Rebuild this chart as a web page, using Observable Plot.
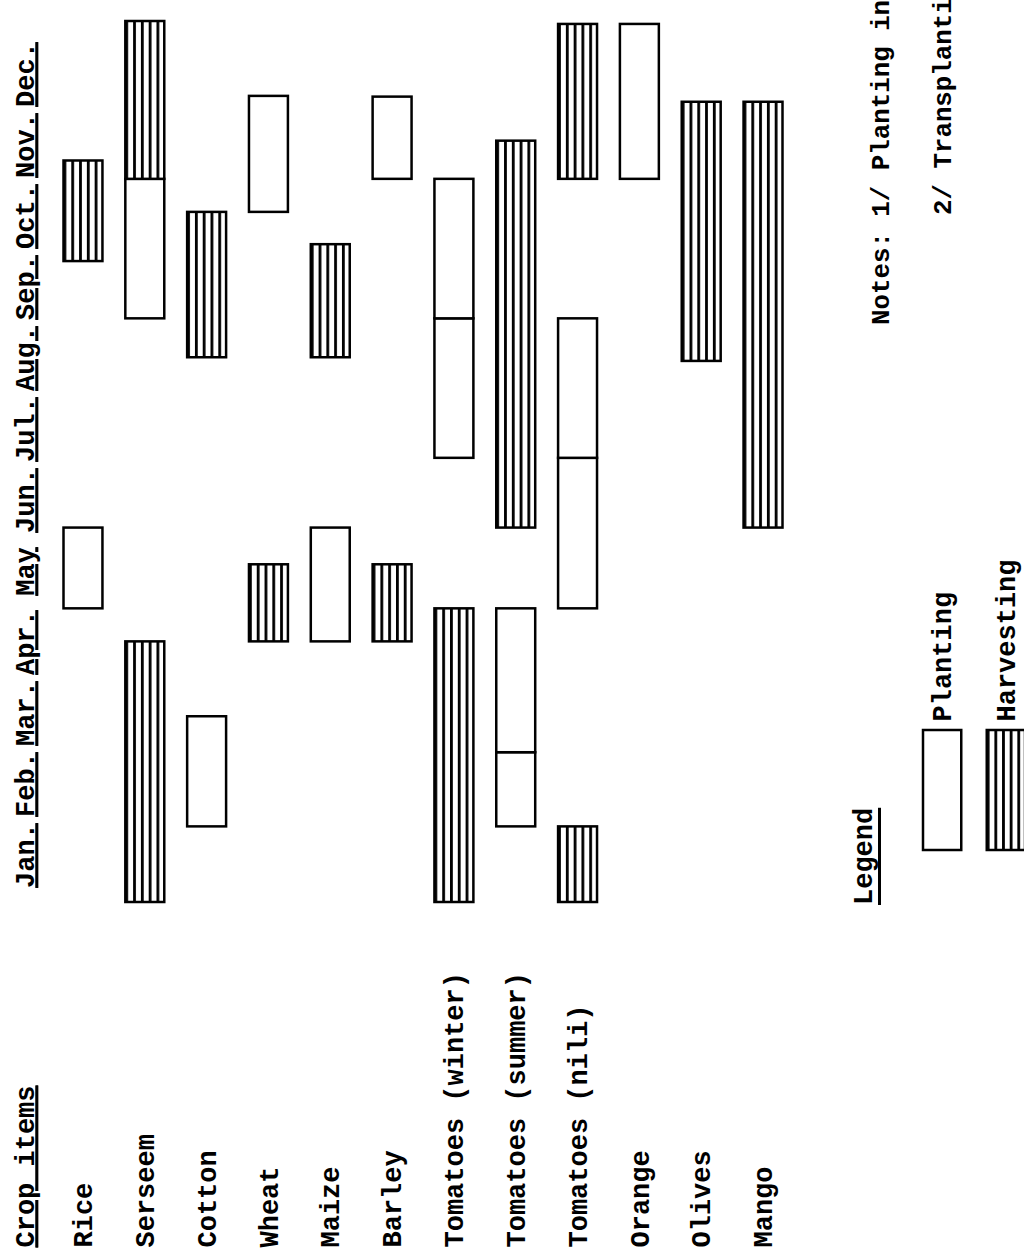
<!DOCTYPE html>
<html><head><meta charset="utf-8">
<script src="https://cdn.jsdelivr.net/npm/d3@7"></script>
<script src="https://cdn.jsdelivr.net/npm/@observablehq/plot@0.6"></script>
<style>
html,body{margin:0;padding:0;background:#fff;overflow:hidden;}
#page{position:relative;width:1024px;height:1251px;overflow:hidden;background:#fff;}
#rot{position:absolute;left:0;top:0;width:1251px;height:1024px;transform-origin:0 0;transform:translate(0,1251px) rotate(-90deg);}
#rot svg{position:absolute;left:0;top:0;background:transparent;}
#rot svg text{font-weight:bold;}
.note{position:absolute;white-space:nowrap;font-family:'Liberation Mono',monospace;font-weight:bold;font-size:27px;line-height:30px;color:#000;}
.ul text, .ul{text-decoration:underline;text-decoration-thickness:2.5px;text-underline-offset:6px;}
</style></head><body><div id="page"><div id="rot"></div></div>
<script>
// ---- data ----
const crops = ["Rice","Serseem","Cotton","Wheat","Maize","Barley","Tomatoes (winter)","Tomatoes (summer)","Tomatoes (nili)","Orange","Olives","Mango"];
const months = ["Jan.","Feb.","Mar.","Apr.","May","Jun.","Jul.","Aug.","Sep.","Oct.","Nov.","Dec."];
const headerText = "Crop items";
const legendTitle = "Legend";
const legendItems = ["Planting","Harvesting"];
const notes = ["Notes: 1/ Planting in", "2/ Transplanting"];
// segments (months from 1 Jan = 0 to 31 Dec = 12)
const segCrop  = ["Rice","Rice","Serseem","Serseem","Serseem","Cotton","Cotton","Wheat","Wheat","Maize","Maize","Barley","Barley",
  "Tomatoes (winter)","Tomatoes (winter)","Tomatoes (winter)","Tomatoes (summer)","Tomatoes (summer)","Tomatoes (summer)",
  "Tomatoes (nili)","Tomatoes (nili)","Tomatoes (nili)","Tomatoes (nili)","Orange","Olives","Mango"];
const segStage = ["P","H","H","P","H","P","H","H","P","P","H","H","P",
  "H","P","P","P","P","H",
  "H","P","P","H","P","H","H"];
const segStart = [4.0,8.73,0,7.95,9.85,1.03,7.42,3.55,9.4,3.55,7.42,3.55,9.85,
  0,6.05,7.95,1.03,2.04,5.1,
  0,4.0,6.05,9.85,9.85,7.37,5.1];
const segEnd   = [5.1,10.1,3.55,9.85,12,2.53,9.4,4.6,10.98,5.1,8.96,4.6,10.97,
  4.0,7.95,9.85,2.04,4.0,10.37,
  1.03,6.05,7.95,11.96,11.96,10.9,10.9];

const segs = segCrop.map((c,i)=>({crop:c, stage:segStage[i], start:segStart[i], end:segEnd[i]}));
const plant = segs.filter(d=>d.stage==="P");
const harv = segs.filter(d=>d.stage==="H");

const font = "'Liberation Mono', monospace";
const fs = 27;
const rot = document.getElementById("rot");

// ---- main chart ----
const main = Plot.plot({
  width:1251, height:1024, margin:0,
  style:{background:"transparent", fontFamily:font, fontSize:fs+"px", color:"#000"},
  x:{domain:[0,12], range:[349,1230], axis:null},
  y:{type:"band", domain:crops, range:[63.5,782.5], paddingInner:0.37, paddingOuter:0, round:false, axis:null},
  marks:[
    Plot.barX(plant, {x1:"start", x2:"end", y:"crop", fill:"white", stroke:"black", strokeWidth:2.5}),
    Plot.barX(harv, {x1:"start", x2:"end", y:"crop", fill:"url(#hatch)", stroke:"black", strokeWidth:2.5}),
    Plot.text(crops, {y:d=>d, frameAnchor:"left", textAnchor:"start", dx:3, fontSize:fs, fill:"black"})
  ]
});
d3.select(main).insert("defs", ":first-child").html(
  '<pattern id="hatch" patternUnits="objectBoundingBox" x="0" y="0" width="1" height="0.2">' +
  '<rect x="0" y="0" width="4000" height="100" fill="white"/>' +
  '<rect x="0" y="0" width="4000" height="2.8" fill="black"/></pattern>');
rot.appendChild(main);

// ---- header (month labels + crop items) ----
const header = Plot.plot({
  width:1251, height:60, margin:0,
  style:{background:"transparent", fontFamily:font, fontSize:fs+"px", color:"#000"},
  x:{type:"point", domain:months, range:[358,1213], axis:null},
  marks:[
    Plot.text(months, {x:d=>d, frameAnchor:"top", lineAnchor:"bottom", dy:33, fontSize:fs, fill:"black"}),
    Plot.text([headerText], {frameAnchor:"top-left", textAnchor:"start", lineAnchor:"bottom", dx:3, dy:33, fontSize:fs, fill:"black"})
  ]
});
header.classList.add("ul");
rot.appendChild(header);

// ---- legend ----
const legend = Plot.plot({
  width:1251, height:1024, margin:0,
  style:{background:"transparent", fontFamily:font, fontSize:fs+"px", color:"#000"},
  x:{domain:[0,1], range:[401,521], axis:null},
  y:{type:"band", domain:legendItems, range:[923,1025], paddingInner:0.4, paddingOuter:0, round:false, axis:null},
  marks:[
    Plot.barX(legendItems, {x1:0, x2:1, y:d=>d, fill:d=>d==="Planting"?"white":"url(#hatch)", stroke:"black", strokeWidth:2.5}),
    Plot.text(legendItems, {x:1, y:d=>d, dx:8, textAnchor:"start", fontSize:fs, fill:"black"})
  ]
});
rot.appendChild(legend);

// ---- legend title & notes (html text) ----
function addNote(text, left, top, cls, size){
  const d = document.createElement("div");
  d.className = "note" + (cls?" "+cls:"");
  d.textContent = text; d.style.left = left+"px"; d.style.top = top+"px";
  if (size) d.style.fontSize = size+"px";
  rot.appendChild(d);
}
addNote(legendTitle, 346, 850, "ul");
addNote(notes[0], 926, 868, "", 25.8);
addNote(notes[1], 1036, 930, "", 25.8);
</script></body></html>
